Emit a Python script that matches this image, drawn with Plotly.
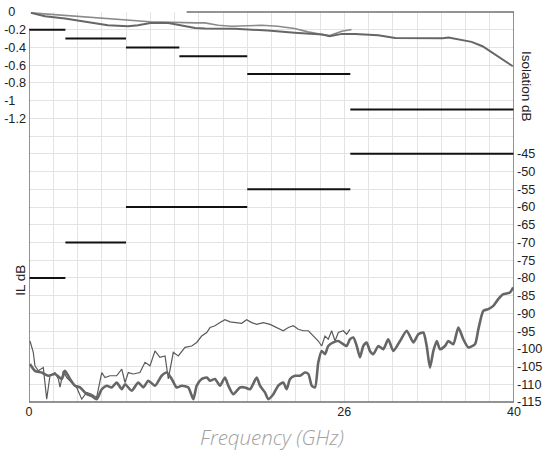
import plotly.graph_objects as go

# ---------------- data ----------------
# Insertion loss spec (left axis, dB)
il_spec_start = [0, 3, 8, 12.4, 18, 26.5]
il_spec_end = [3, 8, 12.4, 18, 26.5, 40]
il_spec_level = [-0.2, -0.3, -0.4, -0.5, -0.7, -1.1]

# Isolation spec (right axis, dB)
iso_spec_start = [0, 3, 8, 18, 26.5]
iso_spec_end = [3, 8, 18, 26.5, 40]
iso_spec_level = [-80, -70, -60, -55, -45]

# IL curve A (lighter, ends at 26.5 GHz)
il_a_f = [0.16, 2.97, 5.17, 7.92, 9.98, 13.7, 14.5, 15.6, 16.7, 19.2, 20.5, 21.9, 23.0, 24.2, 24.8, 25.8, 26.6]
il_a_db = [-0.01, -0.04, -0.06, -0.086, -0.11, -0.123, -0.123, -0.15, -0.16, -0.15, -0.16, -0.187, -0.224,
           -0.255, -0.266, -0.217, -0.198]

# IL curve B (darker, to 40 GHz)
il_b_f = [0.16, 1.32, 2.97, 5.17, 6.5, 8.17, 9.0, 10.0, 11.5, 13.7, 14.5, 17.0, 19.7, 21.9, 24.2, 24.8, 25.8,
          26.9, 27.7, 28.8, 30.2, 32.1, 34.1, 34.6, 35.4, 36.5, 37.4, 38.2, 39.0, 39.9]
il_b_db = [-0.01, -0.048, -0.074, -0.123, -0.15, -0.161, -0.15, -0.123, -0.123, -0.18, -0.187, -0.19, -0.21,
           -0.235, -0.255, -0.274, -0.247, -0.247, -0.255, -0.262, -0.292, -0.296, -0.296, -0.288, -0.308,
           -0.337, -0.386, -0.461, -0.536, -0.612]

# Isolation curve C (thin, ends at 26.5 GHz)
iso_c_f = [0.08, 0.35, 0.49, 0.77, 1.18, 1.46, 1.73, 2.14, 2.42, 2.56, 2.83, 3.11, 3.52, 3.93, 4.35, 4.76, 5.17,
           5.58, 6.0, 6.27, 6.68, 7.23, 7.65, 7.92, 8.19, 8.60, 9.15, 9.57, 9.98, 10.39, 10.80, 11.22, 11.49,
           11.90, 12.31, 12.87, 13.42, 13.83, 14.24, 14.66, 14.93, 15.34, 15.75, 16.16, 16.58, 17.13, 17.54,
           17.95, 18.37, 18.78, 19.32, 19.88, 20.43, 20.97, 21.39, 21.80, 22.21, 22.62, 23.04, 23.45, 23.86,
           24.14, 24.41, 24.68, 24.96, 25.24, 25.51, 25.92, 26.20, 26.47]
iso_c_db = [-97.8, -100.9, -104.8, -106.2, -105.3, -114.2, -107.6, -106.7, -108.5, -110.8, -106.2, -108.1,
            -109.5, -110.9, -114.2, -112.3, -112.8, -113.7, -106.7, -108.1, -107.6, -107.6, -105.7, -109.5,
            -106.7, -107.1, -106.7, -103.8, -104.8, -100.6, -102.4, -102.0, -108.5, -101.0, -102.0, -99.6,
            -99.2, -98.2, -96.4, -95.4, -94.0, -93.5, -92.6, -91.8, -92.4, -92.6, -92.8, -91.8, -92.6, -93.1,
            -92.6, -93.1, -94.0, -94.9, -94.0, -93.5, -94.5, -94.9, -94.9, -96.4, -97.8, -99.2, -96.4, -97.3,
            -94.9, -97.8, -95.4, -94.9, -95.9, -94.5]

# Isolation curve D (thick, to 40 GHz)
iso_d_f = [0.08, 0.49, 1.05, 1.59, 2.14, 2.70, 2.97, 3.38, 3.79, 4.21, 4.76, 5.17, 5.58, 6.0, 6.41, 6.82, 7.23,
           7.65, 7.92, 8.47, 9.01, 9.43, 9.84, 10.39, 10.94, 11.36, 11.77, 12.18, 12.59, 13.14, 13.55, 13.83,
           14.24, 14.66, 14.93, 15.34, 15.75, 16.16, 16.44, 16.85, 17.40, 17.81, 18.23, 18.78, 19.05, 19.46,
           19.74, 20.15, 20.56, 20.97, 21.25, 21.53, 21.94, 22.35, 22.76, 23.04, 23.32, 23.59, 23.86, 24.14,
           24.41, 24.68, 25.10, 25.51, 25.92, 26.20, 26.47, 26.75, 27.03, 27.30, 27.57, 27.85, 28.12, 28.40,
           28.81, 29.22, 29.63, 30.05, 30.60, 31.15, 31.70, 32.11, 32.52, 32.80, 33.07, 33.35, 33.63, 33.90,
           34.31, 34.58, 34.99, 35.41, 35.82, 36.23, 36.78, 37.06, 37.47, 37.88, 38.29, 38.70, 39.12, 39.67,
           39.94]
iso_d_db = [-104.3, -106.2, -106.7, -107.6, -107.1, -108.5, -106.2, -108.5, -110.4, -110.9, -112.8, -113.3,
            -114.2, -111.4, -110.4, -110.9, -109.5, -111.4, -110.0, -111.8, -109.5, -110.9, -109.0, -110.4,
            -107.6, -106.7, -108.5, -110.9, -110.4, -110.9, -114.2, -110.4, -108.5, -108.1, -109.0, -108.5,
            -110.4, -108.1, -110.4, -112.8, -110.9, -110.9, -111.4, -108.1, -110.4, -112.3, -114.2, -112.8,
            -110.4, -109.5, -111.4, -108.5, -107.6, -107.6, -106.7, -107.1, -110.4, -110.9, -103.8, -100.6,
            -101.5, -99.2, -98.2, -97.8, -98.7, -99.2, -97.3, -96.8, -99.2, -102.4, -99.2, -98.2, -100.6,
            -101.5, -99.2, -100.1, -97.3, -100.6, -97.8, -94.9, -98.2, -95.9, -95.4, -99.2, -105.3, -100.6,
            -97.8, -100.1, -99.2, -97.8, -98.7, -94.0, -97.3, -99.6, -98.7, -94.5, -89.3, -88.8, -87.9, -86.0,
            -84.6, -84.1, -82.7]

# Axis ticks
x_grid = list(range(0, 41, 2))
x_labels = {0: "0", 26: "26", 40: "40"}
il_grid = [round(-0.2 * i, 1) for i in range(0, 23)]
il_labels = {0.0: "0", -0.2: "-0.2", -0.4: "-0.4", -0.6: "-0.6", -0.8: "-0.8", -1.0: "-1", -1.2: "-1.2"}
iso_ticks = list(range(-45, -116, -5))


def segments(starts, ends, levels):
    xs, ys = [], []
    for s, e, l in zip(starts, ends, levels):
        xs += [s, e, None]
        ys += [l, l, None]
    return xs, ys


fig = go.Figure()

ilx, ily = segments(il_spec_start, il_spec_end, il_spec_level)
fig.add_trace(go.Scatter(x=ilx, y=ily, mode="lines", line=dict(color="#111111", width=2),
                         yaxis="y", showlegend=False, hoverinfo="skip"))
isx, isy = segments(iso_spec_start, iso_spec_end, iso_spec_level)
fig.add_trace(go.Scatter(x=isx, y=isy, mode="lines", line=dict(color="#111111", width=2),
                         yaxis="y2", showlegend=False, hoverinfo="skip"))

fig.add_trace(go.Scatter(x=il_a_f, y=il_a_db, mode="lines", line=dict(color="#8a8a8a", width=1.6),
                         yaxis="y", showlegend=False))
fig.add_trace(go.Scatter(x=il_b_f, y=il_b_db, mode="lines", line=dict(color="#666666", width=2),
                         yaxis="y", showlegend=False))
fig.add_trace(go.Scatter(x=iso_c_f, y=iso_c_db, mode="lines", line=dict(color="#5a5a5a", width=1.2),
                         yaxis="y2", showlegend=False))
fig.add_trace(go.Scatter(x=iso_d_f, y=iso_d_db, mode="lines",
                         line=dict(color="#666666", width=2.6, shape="spline", smoothing=0.6),
                         yaxis="y2", showlegend=False))

nb = "\u00a0"
il_text = []
for v in il_grid:
    t = il_labels.get(v, "")
    if t in ("0", "-1"):
        t = t + nb * 3
    il_text.append(t)

fig.update_layout(
    width=545, height=453,
    margin=dict(l=29, r=31, t=12, b=51),
    paper_bgcolor="white", plot_bgcolor="white",
    font=dict(family="Liberation Sans, Arial, sans-serif", color="#222222", size=12),
    xaxis=dict(range=[0, 40], tickvals=x_grid, ticktext=[x_labels.get(v, "") for v in x_grid],
               showgrid=True, gridcolor="#e3e3e3", gridwidth=1, zeroline=False, ticks="",
               showline=False, automargin=False, tickfont=dict(size=12.5, color="#222")),
    yaxis=dict(range=[-4.4, 0], tickvals=il_grid, ticktext=il_text, showgrid=True,
               gridcolor="#e3e3e3", gridwidth=1, zeroline=False, ticks="", showline=False,
               automargin=False, tickfont=dict(size=12.7, color="#222"), ticklabelstandoff=2),
    yaxis2=dict(range=[-115, -5], overlaying="y", side="right", tickvals=iso_ticks,
                ticktext=[str(v) for v in iso_ticks], showgrid=False, zeroline=False, ticks="",
                showline=False, automargin=False, tickfont=dict(size=12.7, color="#222"),
                ticklabelstandoff=2),
)

# frame lines
frame = dict(color="#6f6f6f", width=1.5)
fig.add_shape(type="line", xref="x", yref="paper", x0=0, x1=40, y0=0, y1=0, line=frame)
fig.add_shape(type="line", xref="x", yref="paper", x0=13.0, x1=40, y0=1, y1=1, line=frame)
fig.add_shape(type="line", xref="x", yref="paper", x0=40, x1=40, y0=0, y1=1, line=frame)
fig.add_shape(type="line", xref="x", yref="y", x0=0, x1=0, y0=-4.4, y1=-0.2, line=frame)

fig.add_annotation(text="Frequency (GHz)", xref="paper", yref="paper", x=0.5, y=-0.09,
                   xanchor="center", yanchor="middle", showarrow=False,
                   font=dict(family="Open Sans", size=20.5, color="#a0a0a0", style="italic", weight=300))
fig.add_annotation(text="IL dB", xref="paper", yref="paper", x=-0.017, y=0.313, textangle=-90,
                   xanchor="center", yanchor="middle", showarrow=False,
                   font=dict(size=13.5, color="#222"))
fig.add_annotation(text="Isolation dB", xref="paper", yref="paper", x=1.027, y=0.81, textangle=90,
                   xanchor="center", yanchor="middle", showarrow=False,
                   font=dict(size=13.5, color="#222"))

fig.write_html(
    "out.html",
    config={"displayModeBar": False},
    post_script="document.body.style.margin='0';document.body.style.padding='0';"
                "document.body.style.overflow='hidden';",
)
